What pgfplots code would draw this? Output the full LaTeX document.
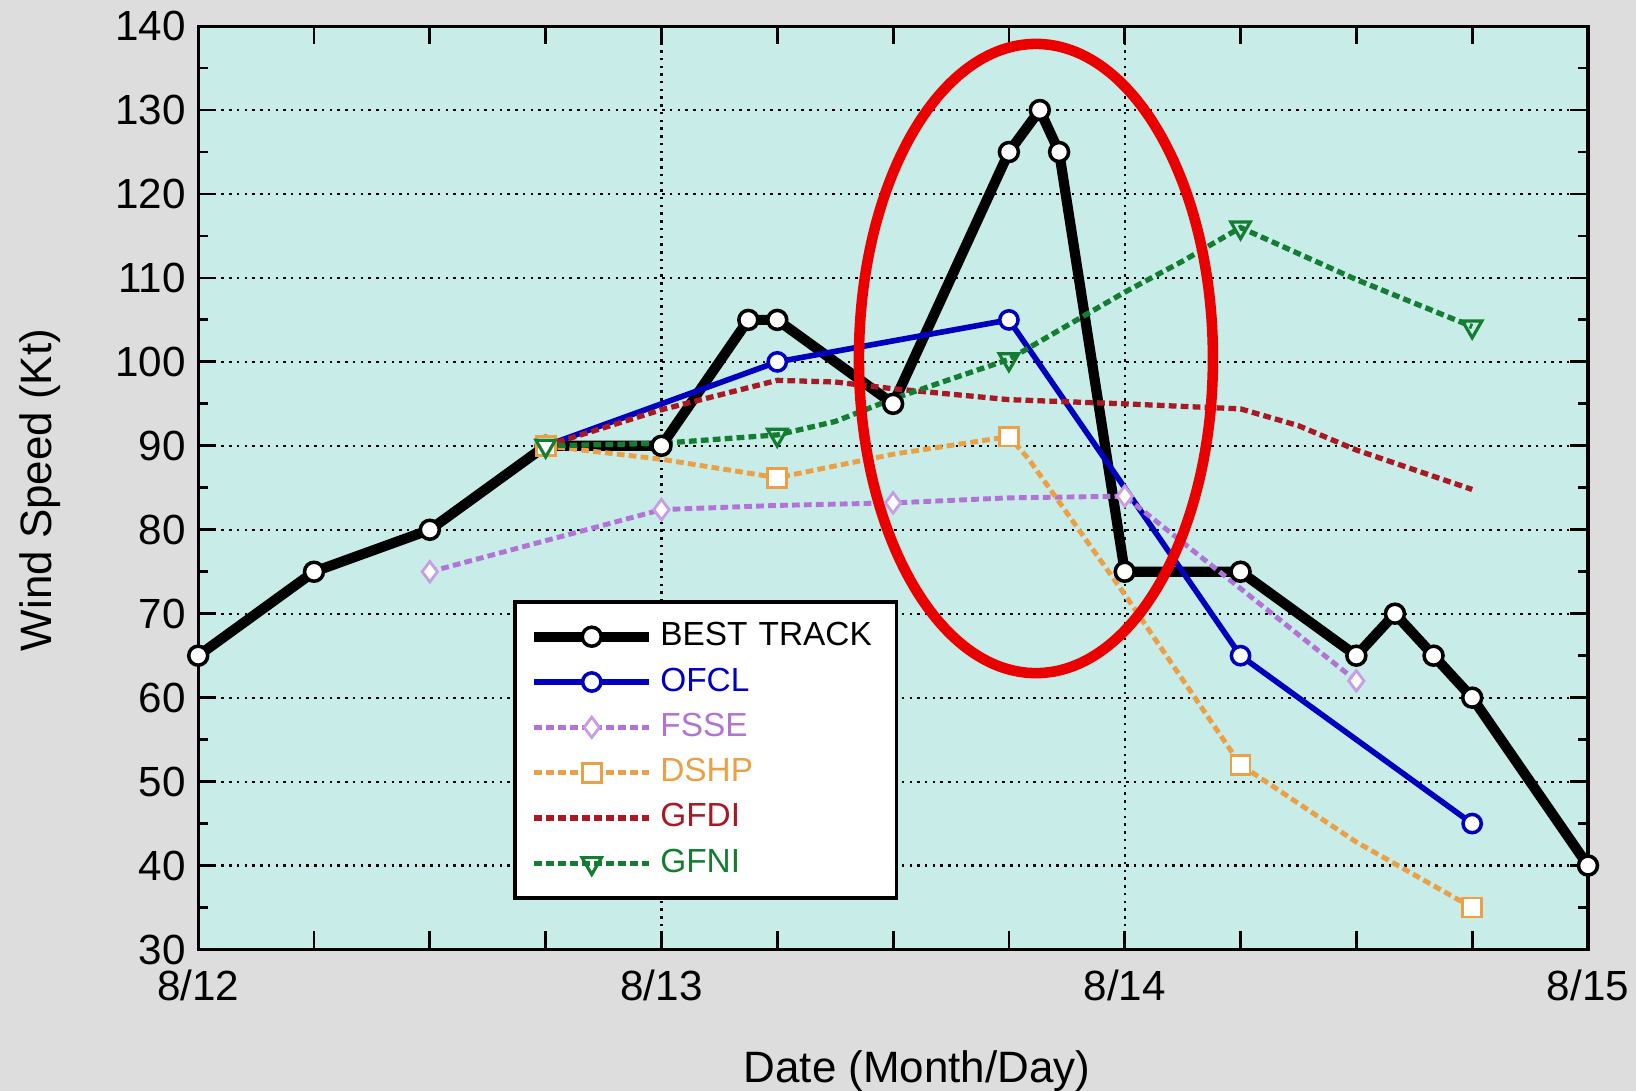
\documentclass[border=0pt]{standalone}
\usepackage{fontspec}
\setmainfont{Liberation Sans}
\usepackage{pgfplots}
\pgfplotsset{compat=1.18}
\definecolor{bggray}{RGB}{221,221,221}
\definecolor{plotbg}{RGB}{200,236,232}
\definecolor{ofcl}{RGB}{0,0,190}
\definecolor{fsse}{RGB}{178,115,215}
\definecolor{dshp}{RGB}{236,160,70}
\definecolor{gfdi}{RGB}{170,25,35}
\definecolor{gfni}{RGB}{20,125,50}
\definecolor{ring}{RGB}{235,0,0}
\begin{document}
\begin{tikzpicture}
\fill[bggray] (0,0) rectangle (16.36,10.91);
\useasboundingbox (0,0) rectangle (16.36,10.91);
\begin{axis}[
  at={(1.982cm,1.415cm)}, anchor=south west,
  scale only axis, width=13.898cm, height=9.234cm,
  xmin=0, xmax=72, ymin=30, ymax=140,
  clip=false,
  axis background/.style={fill=plotbg},
  axis line style={line width=0.9pt},
  xtick={0,6,...,72},
  xticklabels={{8/12},{},{},{},{8/13},{},{},{},{8/14},{},{},{},{8/15}},
  ytick={30,40,...,140},
  minor ytick={35,45,...,135},
  tick pos=both, tick align=inside,
  major tick length=0.18cm, minor tick length=0.1cm,
  tick style={black, line width=0.8pt},
  ymajorgrids=true,
  major grid style={black, line width=0.6pt, dash pattern=on 0.7pt off 1.5pt},
  extra x ticks={24,48}, extra x tick labels={{},{}},
  extra x tick style={grid=major, major tick length=0pt},
  /pgf/number format/assume math mode=true,
  tick label style={font=\fontsize{12}{12}\selectfont},
  xticklabel style={yshift=-0.08cm},
  legend style={at={(0.2268,0.054)}, anchor=south west, draw=black, line width=1pt, fill=white,
    font=\fontsize{9.5}{10}\selectfont, inner xsep=0.14cm, inner ysep=0.12cm,
    row sep=0pt, column sep=0.06cm,
    nodes={inner xsep=0pt, inner ysep=0pt, minimum height=0.453cm, text width=2.22cm}},
  legend cell align=left,
  legend image code/.code={\draw[mark repeat=2,mark phase=2,#1] plot coordinates {(0cm,0cm) (0.575cm,0cm) (1.15cm,0cm)};},
]
% BEST TRACK
\addplot[black, line width=2.9pt, mark=*, mark size=2.7pt, mark options={fill=white, draw=black, line width=1pt}, forget plot]
coordinates {(0,65) (6,75) (12,80) (18,90) (24,90) (28.5,105) (30,105) (36,95) (42,125) (43.6,130) (44.6,125) (48,75) (54,75) (60,65) (62,70) (64,65) (66,60) (72,40)};
% OFCL
\addplot[ofcl, line width=1.6pt, mark=*, mark size=2.6pt, mark indices={2,3,4,5}, mark options={fill=white, draw=ofcl, line width=1pt}, forget plot]
coordinates {(18,90) (30,100) (42,105) (54,65) (66,45)};
% FSSE
\addplot[fsse, line width=1.4pt, dash pattern=on 2.2pt off 1.2pt, mark=diamond*, mark size=2.9pt, mark indices={1,2,4,6,7}, mark options={solid, fill=white, draw=fsse!70!white, line width=0.8pt}, forget plot]
coordinates {(12,75) (24,82.4) (30,82.9) (36,83.2) (42,83.8) (48,84) (60,62)};
% DSHP
\addplot[dshp, line width=1.4pt, dash pattern=on 2.2pt off 1.2pt, mark=square*, mark size=2.7pt, mark indices={1,3,5,8,10}, mark options={solid, fill=white, draw=dshp, line width=0.8pt}, forget plot]
coordinates {(18,90) (24,88.4) (30,86.2) (36,89) (42,91.1) (43,88.5) (48,72.3) (54,52) (60,42.8) (66,35)};
% GFDI
\addplot[gfdi, line width=1.5pt, dash pattern=on 2.2pt off 1.2pt, forget plot]
coordinates {(18,90) (24,94.3) (30,97.8) (33,97.6) (36,96.8) (42,95.5) (48,95) (54,94.4) (57,92.4) (60,89.5) (66,84.8)};
% GFNI
\addplot[gfni, line width=1.5pt, dash pattern=on 2.2pt off 1.2pt, mark=triangle, mark size=3.2pt, mark indices={1,3,6,9,11}, mark options={solid, rotate=180, draw=gfni, line width=0.9pt}, forget plot]
coordinates {(18,90) (24,90.3) (30,91.3) (33,92.9) (36,95.6) (42,100.3) (48,108.3) (51,112) (54,116) (60,109.8) (66,104.2)};

\addlegendimage{black, line width=2.9pt, mark=*, mark size=2.7pt, mark options={fill=white, draw=black, line width=1pt}}
\addlegendentry{BEST TRACK}
\addlegendimage{ofcl, line width=1.6pt, mark=*, mark size=2.6pt, mark options={fill=white, draw=ofcl, line width=1pt}}
\addlegendentry{\textcolor{ofcl}{OFCL}}
\addlegendimage{fsse, line width=1.4pt, dash pattern=on 2.2pt off 1.2pt, mark=diamond*, mark size=2.9pt, mark options={solid, fill=white, draw=fsse!70!white, line width=0.8pt}}
\addlegendentry{\textcolor{fsse}{FSSE}}
\addlegendimage{dshp, line width=1.4pt, dash pattern=on 2.2pt off 1.2pt, mark=square*, mark size=2.7pt, mark options={solid, fill=white, draw=dshp, line width=0.8pt}}
\addlegendentry{\textcolor{dshp}{DSHP}}
\addlegendimage{gfdi, line width=1.5pt, dash pattern=on 2.2pt off 1.2pt}
\addlegendentry{\textcolor{gfdi}{GFDI}}
\addlegendimage{gfni, line width=1.5pt, dash pattern=on 2.2pt off 1.2pt, mark=triangle, mark size=3.2pt, mark options={solid, rotate=180, draw=gfni, line width=0.9pt}}
\addlegendentry{\textcolor{gfni}{GFNI}}

\draw[ring, line width=3pt] (axis cs:43.4,100.4) ellipse [x radius=1.77cm, y radius=3.146cm];
\end{axis}
\node[rotate=90, font=\fontsize{12.5}{13}\selectfont] at (0.40,6.01) {Wind Speed (Kt)};
\node[anchor=base, font=\fontsize{12.5}{13}\selectfont] at (9.17,0.08) {Date (Month/Day)};
\end{tikzpicture}
\end{document}
